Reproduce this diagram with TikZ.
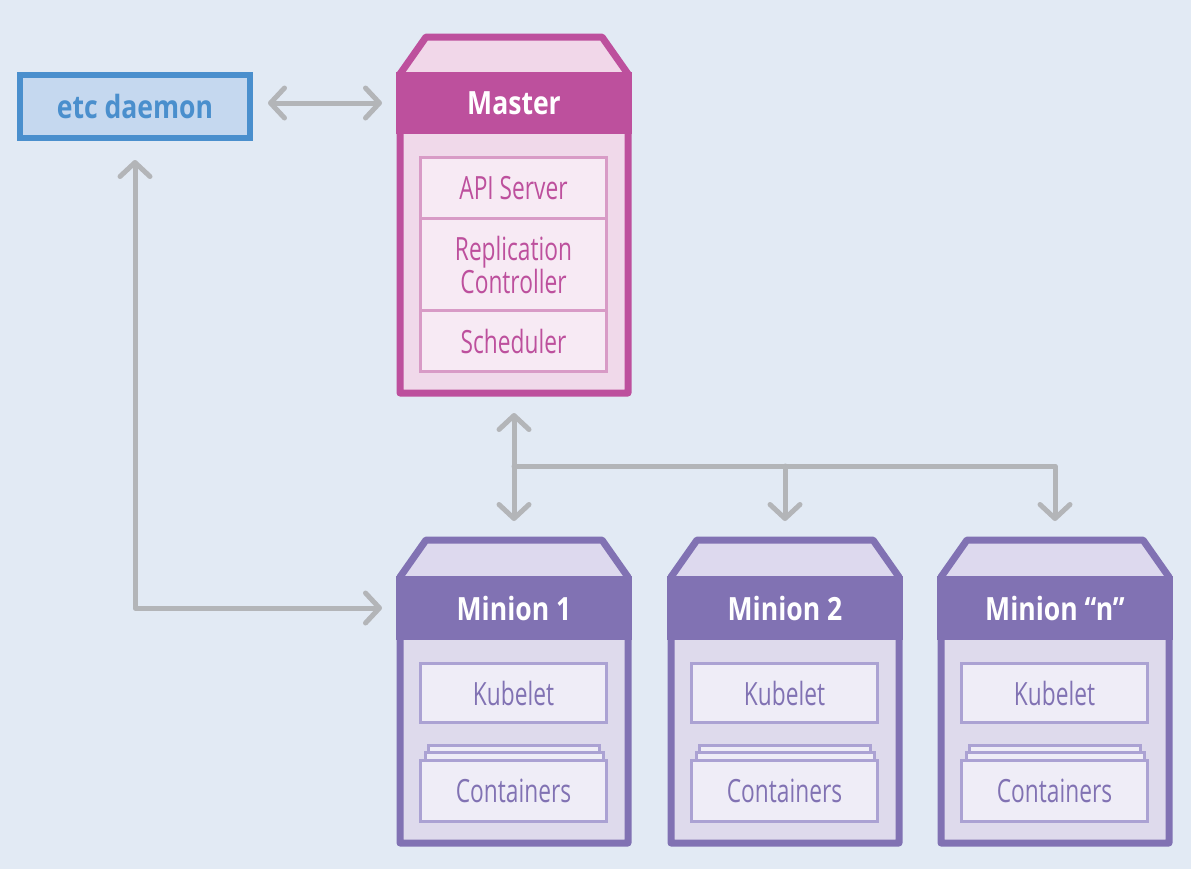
\documentclass[tikz,border=0pt]{standalone}
\usepackage{fontspec}
\setmainfont{Open Sans}[FakeStretch=0.71,BoldFeatures={FakeStretch=0.83}]
\usetikzlibrary{arrows.meta,positioning}
\definecolor{bgblue}{HTML}{E2EAF4}
\definecolor{etcline}{HTML}{4A8FCD}
\definecolor{etcfill}{HTML}{C5D8EF}
\definecolor{mag}{HTML}{BD509D}
\definecolor{magtop}{HTML}{F1D7E9}
\definecolor{magbody}{HTML}{F0D9EA}
\definecolor{magbox}{HTML}{F7EAF4}
\definecolor{magedge}{HTML}{D89BC6}
\definecolor{pur}{HTML}{8172B3}
\definecolor{purtop}{HTML}{DDD9EE}
\definecolor{purbody}{HTML}{DEDAEC}
\definecolor{purbox}{HTML}{EFEDF7}
\definecolor{puredge}{HTML}{ABA2D3}
\definecolor{linkgray}{HTML}{B3B5B8}
\begin{document}
\begin{tikzpicture}[x=1pt,y=-1pt,
  lbl/.style={font=\fontsize{32}{30}\selectfont},
  head/.style={font=\fontsize{32}{30}\selectfont\bfseries, text=white,
    minimum width=236pt, minimum height=62pt, outer sep=0pt},
  area/.style={minimum width=236pt, outer sep=0pt},
  part/.style={draw=magedge, fill=magbox, text=mag, line width=3pt,
    minimum width=186pt, outer sep=0pt, align=center, lbl},
  slot/.style={draw=puredge, fill=purbox, text=pur, line width=3pt,
    minimum width=186pt, outer sep=0pt, lbl},
  wire/.style={draw=linkgray, line width=5pt, line cap=round, line join=round},
  >={Straight Barb[length=14pt,width=30pt,round]}]
\useasboundingbox (0,0) rectangle (1191,868);
\fill[bgblue] (-6,-6) rectangle (1197,874);

% etc daemon
\node[draw=etcline, fill=etcfill, line width=6pt, minimum width=230pt,
  minimum height=63pt, outer sep=3pt, text=etcline,
  font=\fontsize{32}{30}\selectfont\bfseries] (etc) at (135,106.5) {etc daemon};

% master
\fill[magtop] (400,74) -- (426,37) -- (602,37) -- (628,74) -- cycle;
\fill[magbody] (400,134) rectangle (628,393);
\node[head, fill=mag] (masterhead) at (514,103) {Master};
\node[part, minimum height=61pt] (api) at (513.5,188) {API Server};
\node[part, minimum height=92pt, below=0pt of api] (repl) {Replication\\Controller};
\node[part, minimum height=61pt, below=0pt of repl] (sched) {Scheduler};
\draw[mag, line width=7pt, line join=round]
  (400,74) -- (426,37) -- (602,37) -- (628,74) -- (628,393) -- (400,393) -- cycle;
\node[area, minimum height=364pt] (master) at (514,215) {};

% minions
\foreach \x/\name/\title in {514/m1/Minion 1, 785/m2/Minion 2, 1055/mn/Minion “n”} {
  \fill[purtop] (\x-114,577) -- (\x-88,540) -- (\x+88,540) -- (\x+114,577) -- cycle;
  \fill[purbody] (\x-114,640) rectangle (\x+114,843);
  \node[head, fill=pur, minimum height=64pt] (\name head) at (\x,608) {\title};
  \node[slot, minimum height=59pt] (\name kube) at (\x-0.5,693) {Kubelet};
  \draw[puredge, fill=purbox, line width=3pt] (\x-85.5,745.5) rectangle (\x+85.5,765);
  \draw[puredge, fill=purbox, line width=3pt] (\x-89,752.5) rectangle (\x+89,765);
  \node[slot, minimum height=61pt] (\name cont) at (\x-0.5,791) {Containers};
  \draw[pur, line width=7pt, line join=round]
    (\x-114,577) -- (\x-88,540) -- (\x+88,540) -- (\x+114,577) -- (\x+114,843) -- (\x-114,843) -- cycle;
  \node[area, minimum height=311pt] (\name) at (\x,691.5) {};
}

% links
\draw[wire,<->,shorten <=15pt,shorten >=14pt] (etc.east |- masterhead.west) -- (masterhead.west);
\draw[wire,<->,shorten <=19pt,shorten >=14pt] (etc.south) |- (m1head.west);
\draw[wire,<->,shorten <=16pt,shorten >=15pt] (master.south) -- (m1.north);
\coordinate (bus) at (514,466);
\draw[wire,->,shorten >=15pt] (bus) -| (mn.north);
\draw[wire,->,shorten >=15pt] (bus -| m2.north) -- (m2.north);
\end{tikzpicture}
\end{document}
